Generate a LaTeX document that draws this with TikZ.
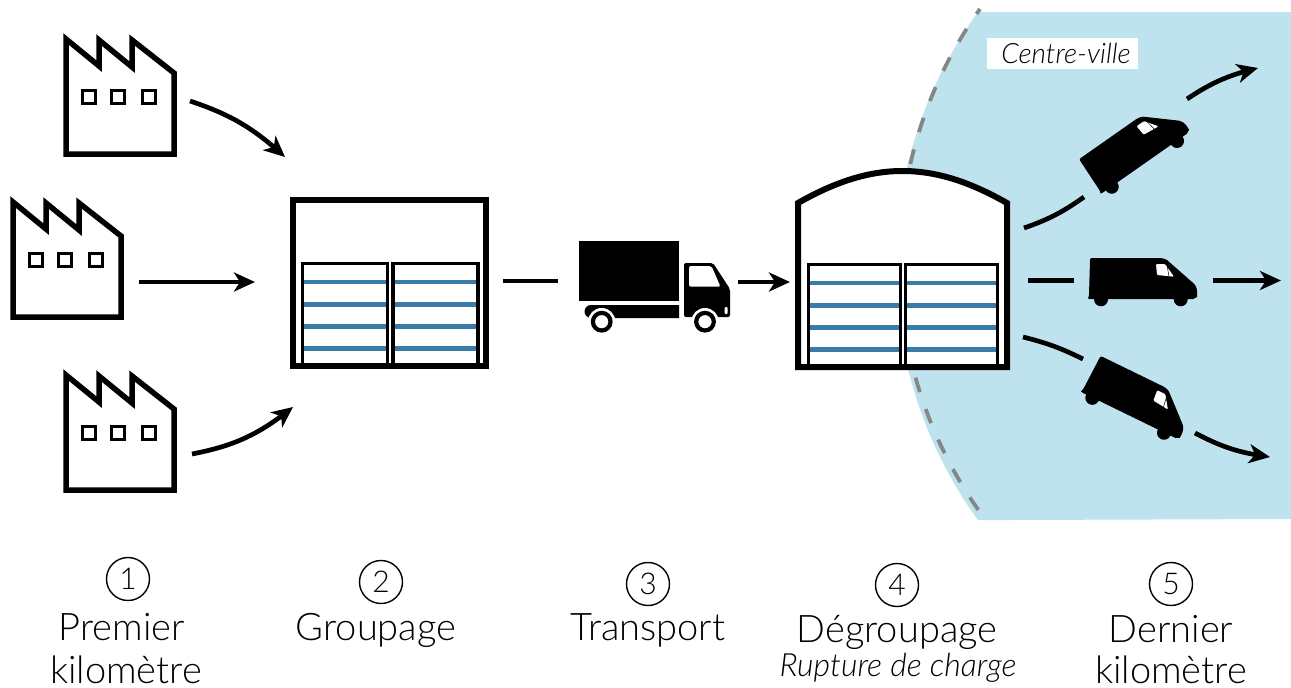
\documentclass[tikz,border=0pt]{standalone}
\usepackage{fontspec}
\setmainfont{Lato}[UprightFont=* Light,ItalicFont=* Light Italic]
\usetikzlibrary{arrows.meta,bending}
\definecolor{cityblue}{HTML}{BFE3EE}
\definecolor{rackblue}{HTML}{3A7CA6}
\tikzset{
  iconbox/.style={inner sep=0pt,outer sep=0pt},
  flow/.style={line width=4.7pt},
  flowtip/.style={flow,-{Stealth[length=21pt,width=19pt,inset=6pt,flex=1]}},
  numcircle/.style={draw,circle,line width=1.4pt,minimum size=43pt,inner sep=0pt,font=\fontsize{30}{32}\selectfont},
  steplabel/.style={anchor=base,inner sep=0pt,font=\fontsize{38}{44}\selectfont},
  factory/.pic={
    \draw [line width=5.5pt,fill=white,miter limit=10] (-54,-57) -- (-54,58) -- (54,58) -- (54,-23) -- (12,-56) -- (12,-29) -- (-21,-56) -- (-21,-30) -- cycle;
    \draw [line width=3pt] (-38,-6) rectangle (-25,7);
    \draw [line width=3pt] (-8.5,-6) rectangle (4.5,7);
    \draw [line width=3pt] (22,-6) rectangle (35,7);
  },
  rack/.pic={
    \draw [line width=4.7pt,rackblue] (0,18.5) -- (85,18.5) (0,41) -- (85,41) (0,63) -- (85,63) (0,85) -- (85,85);
    \draw [line width=3.2pt] (0,102.5) -- (0,0) -- (85,0) -- (85,102.5);
  },
  lorry/.pic={
    \fill (-75.5,-46) rectangle (24.5,14);
    \fill (24.5,18) -- (-63.5,18) arc [start angle=270,end angle=90,radius=6.5] -- (24.5,31) -- cycle;
    \fill [rounded corners=2pt] (29.5,30) -- (29.5,-24) -- (58.5,-24) -- (75.5,2) -- (75.5,30) -- cycle;
    \fill [white,rounded corners=2pt] (34.5,-21) -- (57,-21) -- (66,-0.3) -- (34.5,-0.3) -- cycle;
    \fill [white,rounded corners=1pt] (70,20) rectangle (73,27);
    \fill [white] (-52.8,34.7) circle [radius=13.7];
    \fill [white] (50.5,34.7) circle [radius=13.7];
    \draw [line width=4.2pt,fill=white] (-52.8,34.7) circle [radius=8.8];
    \draw [line width=4.2pt,fill=white] (50.5,34.7) circle [radius=8.8];
  },
  minivan/.pic={
    \fill (-53,-19) .. controls (-53,-21) and (-52,-21) .. (-50,-21) -- (17,-21) .. controls (20,-21) and (22,-20) .. (24,-19) -- (49,3) .. controls (53,6) and (55,10) .. (54,18) -- (50,20) -- (-53,20) -- (-55,19.5) -- (-54,16) -- cycle;
    \fill (-42,20.3) circle [radius=7];
    \fill (37.7,20.3) circle [radius=7];
    \fill [white,rounded corners=1pt] (13,-15) -- (22,-15) -- (31,-2.3) -- (14,-4) -- cycle;
    \draw [line width=.5pt] (24,-14) -- (26,-2.5);
  }
}
\begin{document}
\begin{tikzpicture}[x=1pt,y=-1pt]
\useasboundingbox (0,0) rectangle (1291,688);
\fill [cityblue] (978,12) arc [start angle=215.9,end angle=144.1,radius=433.3] -- (1291,519) -- (1291,12) -- cycle;
\draw [gray!95,line width=3.8pt,dash pattern=on 15pt off 18pt,dash phase=9pt] (980,9) arc [start angle=215.5,end angle=144.5,radius=433.3];
\node [fill=white,minimum width=151pt,minimum height=31pt,inner sep=0pt,font=\fontsize{28}{32}\selectfont\itshape] (city) at (1062.5,53.5) {\hspace*{7pt}Centre-ville};

\node [iconbox,minimum width=114pt,minimum height=122pt] (factA) at (120,96) {};
\pic at (factA.center) {factory};
\node [iconbox,minimum width=114pt,minimum height=122pt] (factB) at (67,259) {};
\pic at (factB.center) {factory};
\node [iconbox,minimum width=114pt,minimum height=122pt] (factC) at (120,432) {};
\pic at (factC.center) {factory};

\node [iconbox,draw,line width=6pt,fill=white,minimum width=193pt,minimum height=166pt] (depot) at (389.5,283) {};
\pic at (302.5,263.5) {rack};
\pic at (393,263.5) {rack};

\node [iconbox,minimum width=151pt,minimum height=92pt] (truck) at (654.5,287) {};
\pic at (truck.center) {lorry};

\node [iconbox,minimum width=215pt,minimum height=202pt] (hub) at (902.5,269) {};
\draw [line width=6pt,fill=white,miter limit=10] (798,367) -- (798,203) .. controls (835,182) and (868,171) .. (902.5,171) .. controls (937,171) and (970,182) .. (1007,203) -- (1007,367) -- cycle;
\pic [xscale=1.082] at (808.5,264.5) {rack};
\pic [xscale=1.082] at (905.5,264.5) {rack};

\node [iconbox,minimum width=110pt,minimum height=42pt] (vanA) at (1134.5,146) {};
\pic [rotate=35] at (vanA.center) {minivan};
\node [iconbox,minimum width=110pt,minimum height=42pt] (vanB) at (1143,279) {};
\pic at (vanB.center) {minivan};
\node [iconbox,minimum width=110pt,minimum height=42pt] (vanC) at (1139,398) {};
\pic [rotate=-26] at (vanC.center) {minivan};

\coordinate (outA) at (1258,68);
\coordinate (outB) at (1281,280.5);
\coordinate (outC) at (1270,457);

\draw [flowtip] ([shift={(13,5)}]factA.east) to [bend left=12] ([shift={(-8,-43)}]depot.north west);
\draw [flowtip] ([shift={(15,23)}]factB.east) -- ([shift={(-38,-1)}]depot.west);
\draw [flowtip] ([shift={(15,22)}]factC.east) to [bend right=14] ([shift={(0,41)}]depot.south west);
\draw [flow] ([shift={(17,-2)}]depot.east) -- ([shift={(-21,-6)}]truck.west);
\draw [flowtip] ([shift={(8,-5)}]truck.east) -- ([shift={(-5,13)}]hub.west);
\draw [flow] ([shift={(14,-41)}]hub.east) to [bend right=8] ([shift={(-50.5,51)}]vanA.center);
\draw [flowtip] ([shift={(52.5,-47)}]vanA.center) to [bend left=10] (outA);
\draw [flow] ([shift={(18,11.5)}]hub.east) -- ([shift={(-69,1.5)}]vanB.center);
\draw [flowtip] ([shift={(70,1.5)}]vanB.center) -- (outB);
\draw [flow] ([shift={(13,68)}]hub.east) to [bend left=6] ([shift={(-56,-39)}]vanC.center);
\draw [flowtip] ([shift={(56,35)}]vanC.center) to [bend right=10] (outC);

\node [numcircle] (numA) at (128,579) {1};
\node [numcircle] (numB) at (381,582) {2};
\node [numcircle] (numC) at (648,584) {3};
\node [numcircle] (numD) at (897,585) {4};
\node [numcircle] (numE) at (1171,584) {5};

\node [steplabel] (premier) at (122,640) {Premier};
\node [steplabel] (kmA) at (126,683) {kilomètre};
\node [steplabel] (groupage) at (376,640) {Groupage};
\node [steplabel] (transport) at (648,640) {Transport};
\node [steplabel] (degroupage) at (897,642) {Dégroupage};
\node [anchor=base,inner sep=0pt,font=\fontsize{32}{36}\selectfont\itshape] (rupture) at (898,676) {Rupture de charge};
\node [steplabel] (dernier) at (1171,642) {Dernier};
\node [steplabel] (kmB) at (1171,683) {kilomètre};
\end{tikzpicture}
\end{document}
